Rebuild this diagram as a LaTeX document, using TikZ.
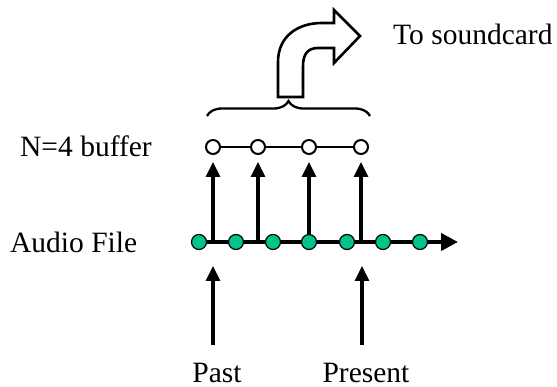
\documentclass[tikz,border=0pt]{standalone}
\usepackage{fontspec}
\setmainfont{Liberation Serif}
\usetikzlibrary{arrows.meta,decorations.pathreplacing}
\begin{document}
\begin{tikzpicture}[x=1pt,y=-1pt,
  lbl/.style={font=\fontsize{29.5}{33}\selectfont, inner sep=0pt},
  gdot/.style={circle, fill=dotgreen, draw=black, line width=1.2pt, minimum size=15pt, inner sep=0pt},
  bdot/.style={circle, fill=white, draw=black, line width=2pt, minimum size=14pt, inner sep=0pt},
  uparrow/.style={line width=3.2pt, -{Triangle[length=15pt,width=14pt]}},
  axisarrow/.style={line width=4pt, -{Triangle[length=17pt,width=17pt]}}
]
\definecolor{dotgreen}{RGB}{0,196,140}
\useasboundingbox (0,0) rectangle (557,387);

% labels
\node[lbl, anchor=base west] (tsc) at (393,45) {To soundcard};
\node[lbl, anchor=base west] (nbuf) at (20,157) {N=4 buffer};
\node[lbl, anchor=base west] (afile) at (10,253) {Audio File};
\node[lbl, anchor=base, text depth=0pt] (past) at (217,382) {Past};
\node[lbl, anchor=base, text depth=0pt] (pres) at (366,382) {Present};

% axis
\coordinate (axs) at (199,242);
\coordinate (axe) at (458,242);
\draw[axisarrow] (axs) -- (axe);

% up arrows from axis to buffer
\coordinate (a1) at (213,242);
\coordinate (a2) at (258,242);
\coordinate (a3) at (309,242);
\coordinate (a4) at (361,242);
\coordinate (t1) at (213,162);
\coordinate (t2) at (258,162);
\coordinate (t3) at (309,162);
\coordinate (t4) at (361,162);
\foreach \i in {1,...,4} \draw[uparrow] (a\i) -- (t\i);

% green samples
\foreach \x [count=\k] in {199,236,273,309,347,383,420}
  \node[gdot] (d\k) at (\x,242) {};

% buffer
\node[bdot] (b1) at (213,147) {};
\node[bdot] (b2) at (258,147) {};
\node[bdot] (b3) at (309,147) {};
\node[bdot] (b4) at (361,147) {};
\draw[line width=2.5pt] (b1) -- (b2) (b2) -- (b3) (b3) -- (b4);

% past/present arrows
\coordinate (p1) at (213,345);
\coordinate (q1) at (213,266);
\coordinate (p2) at (362,345);
\coordinate (q2) at (362,266);
\draw[uparrow] (p1) -- (q1);
\draw[uparrow] (p2) -- (q2);

% brace
\coordinate (bl) at (207,116);
\coordinate (br) at (370,116);
\draw[line width=2.3pt, decorate, decoration={brace, amplitude=15pt}] (bl) -- (br);

% bent arrow
\draw[line width=2.6pt, fill=white, line join=miter]
  (278,97) -- (278,62) .. controls (278,36) and (298,23) .. (322,23)
  -- (334,23) -- (334,10) -- (360,36) -- (334,63) -- (334,48) -- (318,48)
  .. controls (308,48) and (303,54) .. (303,66) -- (303,97) -- cycle;
\end{tikzpicture}
\end{document}
